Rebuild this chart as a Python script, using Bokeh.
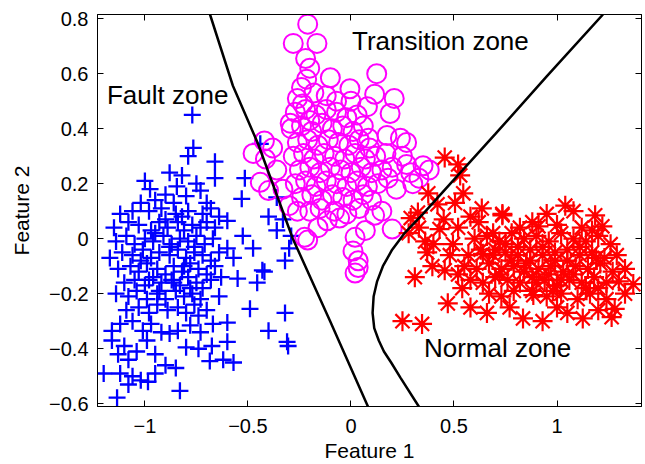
from bokeh.plotting import figure
from bokeh.models import Range1d, FixedTicker, LinearAxis, Label
from bokeh.embed import file_html
from bokeh.resources import INLINE

# ---------------- data ----------------
fault_pts = [
    (-0.77, 0.45), (-0.765, 0.33), (-0.79, 0.30), (-0.66, 0.28), (-0.88, 0.24), (-0.82, 0.23),
    (-1.00, 0.21), (-0.66, 0.22), (-0.845, 0.19), (-0.975, 0.18), (-0.73, 0.175), (-0.515, 0.22),
    (-0.53, 0.145), (-0.90, 0.16), (-0.80, 0.155), (-0.44, 0.345), (-0.36, 0.15), (-0.75, 0.20),
    (-0.95, 0.14), (-0.70, 0.13), (-0.86, 0.13), (-1.02, 0.13),
    (-0.60, 0.065), (-0.525, 0.01), (-0.475, -0.035), (-0.60, -0.035), (-0.33, 0.07), (-0.30, -0.035),
    (-0.29, 0.01), (-0.32, -0.08), (-0.43, -0.115), (-0.55, -0.145), (-0.455, -0.16), (-0.49, -0.255),
    (-0.32, -0.27), (-0.40, -0.335), (-0.31, -0.375), (-0.305, -0.39), (-0.60, -0.375), (-0.57, -0.45),
    (-0.685, -0.445), (-0.62, -0.44), (-0.42, -0.12), (-0.57, -0.07), (-0.40, 0.08), (-0.36, 0.03),
    (-1.12, 0.09), (-1.06, 0.10), (-0.98, 0.10), (-0.92, 0.11), (-0.85, 0.09), (-0.79, 0.10),
    (-0.72, 0.09), (-0.68, 0.11), (-0.64, 0.08),
    (-1.15, 0.04), (-1.08, 0.06), (-1.03, 0.05), (-0.97, 0.03), (-0.93, 0.06), (-0.89, 0.04),
    (-0.84, 0.06), (-0.81, 0.03), (-0.77, 0.05), (-0.73, 0.04), (-0.70, 0.06), (-0.66, 0.04),
    (-1.14, -0.01), (-1.09, 0.01), (-1.05, -0.02), (-1.00, 0.00), (-0.96, -0.01), (-0.91, 0.01),
    (-0.87, -0.02), (-0.83, 0.00), (-0.79, -0.01), (-0.75, 0.01), (-0.71, -0.02), (-0.67, 0.00),
    (-1.17, -0.07), (-1.11, -0.05), (-1.06, -0.06), (-1.01, -0.04), (-0.97, -0.07), (-0.93, -0.05),
    (-0.88, -0.06), (-0.84, -0.04), (-0.80, -0.07), (-0.76, -0.05), (-0.72, -0.06), (-0.68, -0.08),
    (-0.64, -0.05),
    (-1.13, -0.11), (-1.07, -0.10), (-1.03, -0.12), (-0.99, -0.09), (-0.94, -0.11), (-0.90, -0.13),
    (-0.86, -0.10), (-0.82, -0.12), (-0.78, -0.09), (-0.74, -0.11), (-0.70, -0.13), (-0.66, -0.10),
    (-0.63, -0.14),
    (-1.10, -0.16), (-1.05, -0.15), (-1.00, -0.17), (-0.96, -0.14), (-0.92, -0.16), (-0.87, -0.15),
    (-0.83, -0.17), (-0.79, -0.14), (-0.75, -0.16), (-0.72, -0.18), (-0.68, -0.15),
    (-1.14, -0.20), (-1.08, -0.21), (-1.04, -0.19), (-0.99, -0.22), (-0.94, -0.20), (-0.90, -0.22),
    (-0.85, -0.19), (-0.81, -0.21), (-0.77, -0.20), (-0.73, -0.22), (-0.64, -0.21),
    (-1.09, -0.26), (-1.03, -0.25), (-0.98, -0.27), (-0.94, -0.24), (-0.89, -0.26), (-0.84, -0.25),
    (-0.80, -0.27), (-0.76, -0.24), (-0.70, -0.26),
    (-1.16, -0.335), (-1.12, -0.31), (-1.06, -0.30), (-1.01, -0.335), (-0.97, -0.31), (-0.92, -0.34),
    (-0.88, -0.345), (-0.84, -0.335), (-0.78, -0.315), (-0.67, -0.31), (-0.60, -0.305), (-0.73, -0.34),
    (-1.16, -0.37), (-1.10, -0.39), (-1.04, -0.41), (-0.99, -0.37), (-0.95, -0.42), (-0.90, -0.46),
    (-0.80, -0.395), (-0.675, -0.39), (-0.74, -0.40), (-1.08, -0.44), (-1.13, -0.42),
    (-1.20, -0.49), (-1.12, -0.49), (-1.02, -0.515), (-0.985, -0.52), (-1.06, -0.50), (-1.08, -0.53),
    (-0.83, -0.553), (-1.135, -0.578), (-0.95, -0.49), (-0.85, -0.47),
    (-0.95, 0.02), (-0.88, -0.03), (-0.81, -0.10), (-0.86, -0.16), (-0.93, -0.19), (-0.78, -0.18),
    (-0.76, -0.03), (-0.90, 0.07), (-0.82, 0.08), (-1.02, -0.08), (-0.98, -0.15), (-0.74, -0.28),
]

transition_pts = [
    (-0.21, 0.78), (-0.28, 0.71), (-0.165, 0.71), (-0.22, 0.655), (-0.20, 0.62), (-0.215, 0.58),
    (-0.10, 0.585), (0.125, 0.60), (-0.005, 0.545), (0.115, 0.525), (0.21, 0.51), (0.19, 0.455),
    (-0.295, 0.42), (-0.42, 0.355), (-0.235, 0.49),
    (0.085, 0.365), (0.175, 0.375), (0.24, 0.365), (0.27, 0.35), (0.35, 0.265), (0.29, 0.24),
    (0.20, 0.035), (0.115, 0.085), (0.25, 0.30), (0.30, 0.20), (0.22, 0.18), (0.27, 0.27),
    (0.38, 0.25), (0.33, 0.22),
    (-0.475, 0.31), (-0.415, 0.29), (-0.44, 0.205), (-0.40, 0.175), (-0.36, 0.25), (-0.33, 0.18),
    (-0.38, 0.33),
    (-0.115, 0.065), (-0.055, 0.075), (-0.21, -0.005), (-0.225, 0.005), (0.02, 0.005), (0.01, -0.045),
    (0.035, -0.08), (0.035, -0.105), (0.02, -0.125), (-0.16, 0.04), (0.07, 0.03), (-0.26, 0.10),
    (-0.30, 0.12), (0.10, 0.14), (0.15, 0.10),
    (-0.27, 0.46), (-0.22, 0.47), (-0.17, 0.45), (-0.12, 0.47), (-0.07, 0.46), (-0.02, 0.44), (0.03, 0.45),
    (-0.29, 0.40), (-0.24, 0.41), (-0.19, 0.39), (-0.14, 0.42), (-0.09, 0.40), (-0.04, 0.41), (0.01, 0.39),
    (0.06, 0.41),
    (-0.26, 0.35), (-0.21, 0.36), (-0.16, 0.34), (-0.11, 0.36), (-0.06, 0.35), (-0.01, 0.34), (0.04, 0.36),
    (0.09, 0.33),
    (-0.28, 0.30), (-0.23, 0.31), (-0.18, 0.29), (-0.13, 0.31), (-0.08, 0.30), (-0.03, 0.29), (0.02, 0.31),
    (0.07, 0.29), (0.12, 0.30), (0.17, 0.31),
    (-0.25, 0.25), (-0.20, 0.26), (-0.15, 0.24), (-0.10, 0.26), (-0.05, 0.25), (0.00, 0.24), (0.05, 0.26),
    (0.10, 0.24), (0.15, 0.25), (0.20, 0.26),
    (-0.27, 0.20), (-0.22, 0.21), (-0.17, 0.19), (-0.12, 0.21), (-0.07, 0.20), (-0.02, 0.19), (0.03, 0.21),
    (0.08, 0.19), (0.13, 0.20), (0.18, 0.22),
    (-0.24, 0.15), (-0.19, 0.16), (-0.14, 0.14), (-0.09, 0.16), (-0.04, 0.15), (0.01, 0.14), (0.06, 0.16),
    (-0.20, 0.10), (-0.15, 0.11), (-0.08, 0.10), (-0.02, 0.09), (0.04, 0.11),
    (-0.24, 0.55), (-0.18, 0.53), (-0.12, 0.52), (-0.07, 0.50), (-0.26, 0.51), (-0.20, 0.43), (0.00, 0.50),
    (0.08, 0.48),
]

normal_pts = [
    (0.455, 0.295), (0.52, 0.27), (0.53, 0.23), (0.375, 0.165), (0.545, 0.165), (0.42, 0.125),
    (0.505, 0.13), (0.29, 0.075), (0.325, 0.095), (0.28, 0.02), (0.635, 0.11), (0.735, 0.09),
    (0.43, 0.035), (0.37, -0.05), (0.40, -0.02), (0.495, -0.02), (0.64, -0.055), (0.395, -0.10),
    (0.31, -0.14), (0.455, -0.115), (0.54, -0.18), (0.47, -0.235), (0.25, -0.30), (0.345, -0.31),
    (1.04, 0.12), (1.08, 0.10), (0.95, 0.09), (1.185, 0.085), (1.22, 0.045), (0.735, 0.085),
    (0.91, 0.045), (1.17, 0.03), (0.62, 0.06), (0.69, 0.02),
    (1.37, -0.165), (1.30, -0.155), (0.835, -0.29), (0.93, -0.30), (1.125, -0.29), (1.265, -0.285),
    (1.28, -0.255), (0.885, -0.205), (0.77, -0.25), (1.00, -0.25), (1.20, -0.26), (1.24, -0.22),
    (1.33, -0.20), (0.58, -0.25), (0.66, -0.27), (1.05, -0.27),
    (0.60, 0.00), (0.66, 0.01), (0.72, -0.01), (0.78, 0.02), (0.84, 0.00), (0.90, 0.01), (0.96, -0.01),
    (1.02, 0.02), (1.08, 0.00), (1.14, -0.01), (1.20, 0.01), (1.26, -0.02),
    (0.57, -0.06), (0.63, -0.04), (0.69, -0.06), (0.75, -0.05), (0.81, -0.06), (0.87, -0.04), (0.93, -0.06),
    (0.99, -0.05), (1.05, -0.04), (1.11, -0.06), (1.17, -0.05), (1.23, -0.07), (1.29, -0.06),
    (0.55, -0.10), (0.61, -0.11), (0.67, -0.09), (0.73, -0.11), (0.79, -0.10), (0.85, -0.09), (0.91, -0.11),
    (0.97, -0.10), (1.03, -0.12), (1.09, -0.10), (1.15, -0.11), (1.21, -0.09), (1.27, -0.12), (1.33, -0.11),
    (0.58, -0.15), (0.64, -0.16), (0.70, -0.14), (0.76, -0.15), (0.82, -0.16), (0.88, -0.14), (0.94, -0.15),
    (1.00, -0.17), (1.06, -0.15), (1.12, -0.16), (1.18, -0.14), (1.24, -0.16),
    (0.67, -0.20), (0.73, -0.21), (0.79, -0.19), (0.95, -0.21), (1.02, -0.20), (1.10, -0.22), (1.16, -0.20),
    (0.48, -0.06), (0.52, -0.13), (0.45, 0.07), (0.58, 0.08), (0.52, 0.04), (0.33, 0.04), (0.36, -0.01),
    (0.75, -0.02), (0.81, -0.03), (0.87, -0.08), (0.93, -0.03), (0.99, -0.08), (1.05, -0.08), (1.11, -0.03),
    (0.78, -0.08), (0.84, -0.12), (0.90, -0.16), (0.96, -0.13), (1.02, -0.15), (1.08, -0.13), (1.14, -0.18),
    (0.72, -0.13), (0.70, -0.04), (0.88, -0.19), (0.98, -0.19), (1.20, -0.18), (1.19, -0.07), (0.82, 0.04),
    (0.88, 0.06), (1.00, 0.05), (1.12, 0.04),
]

fault_x = [p[0] for p in fault_pts]
fault_y = [p[1] for p in fault_pts]
transition_x = [p[0] for p in transition_pts]
transition_y = [p[1] for p in transition_pts]
normal_x = [p[0] for p in normal_pts]
normal_y = [p[1] for p in normal_pts]

# decision boundaries
boundary1_x = [-0.684, -0.573, -0.451, -0.282, -0.102, 0.083]
boundary1_y = [0.815, 0.556, 0.345, 0.0, -0.298, -0.611]
boundary2_x = [1.223, 0.95, 0.70, 0.50, 0.35, 0.26, 0.20, 0.155, 0.127, 0.11, 0.105, 0.113, 0.135, 0.16, 0.195, 0.24, 0.33]
boundary2_y = [0.815, 0.59, 0.38, 0.215, 0.09, 0.02, -0.04, -0.10, -0.155, -0.21, -0.27, -0.325, -0.37, -0.41, -0.45, -0.505, -0.611]

x_ticks = [-1, -0.5, 0, 0.5, 1]
x_tick_labels = ["\u22121", "\u22120.5", "0", "0.5", "1"]
y_ticks = [-0.6, -0.4, -0.2, 0, 0.2, 0.4, 0.6, 0.8]
y_tick_labels = ["\u22120.6", "\u22120.4", "\u22120.2", "0", "0.2", "0.4", "0.6", "0.8"]

zone_labels = ["Fault zone", "Transition zone", "Normal zone"]
zone_label_x = [-1.184, 0.005, 0.354]
zone_label_y = [0.524, 0.72, -0.396]

FONT = "Liberation Sans"

p = figure(width=645, height=464, x_range=Range1d(-1.23, 1.41), y_range=Range1d(-0.61, 0.815),
           output_backend="svg", toolbar_location=None,
           min_border_left=97, min_border_right=4, min_border_top=14, min_border_bottom=58)
p.grid.visible = False
p.outline_line_color = "black"
p.outline_line_width = 1
p.outline_line_alpha = 1

p.scatter(fault_x, fault_y, marker="cross", size=17, line_width=2.3, color="#0000ff")
p.scatter(transition_x, transition_y, marker="circle", size=19, line_width=2,
          line_color="#ff00ff", fill_color=None)
p.scatter(normal_x, normal_y, marker="asterisk", size=20, line_width=2.2, color="#ff0000")
p.line(boundary1_x, boundary1_y, line_color="black", line_width=2.5)
p.line(boundary2_x, boundary2_y, line_color="black", line_width=2.5)

for t, lx, ly in zip(zone_labels, zone_label_x, zone_label_y):
    p.add_layout(Label(x=lx, y=ly, text=t, text_font=FONT, text_font_size="26px",
                       text_baseline="alphabetic", text_align="left", text_color="black"))

def style_axis(ax, ticks, labels=None):
    ax.ticker = FixedTicker(ticks=ticks)
    ax.major_tick_in = 6
    ax.major_tick_out = 0
    ax.minor_tick_line_color = None
    ax.axis_line_color = "black"
    ax.major_tick_line_color = "black"
    ax.major_label_text_font = FONT
    ax.major_label_text_color = "black"
    ax.axis_label_text_font = FONT
    ax.axis_label_text_font_style = "normal"
    ax.axis_label_text_color = "black"
    if labels is not None:
        ax.major_label_overrides = {t: l for t, l in zip(ticks, labels)}

xa = p.xaxis[0]
style_axis(xa, x_ticks, x_tick_labels)
xa.major_label_text_font_size = "20px"
xa.major_label_standoff = 12
xa.axis_label = "Feature 1"
xa.axis_label_text_font_size = "21px"
xa.axis_label_standoff = 3

ya = p.yaxis[0]
style_axis(ya, y_ticks, y_tick_labels)
ya.major_label_text_font_size = "20px"
ya.major_label_standoff = 9
ya.axis_label = "Feature 2"
ya.axis_label_text_font_size = "21px"
ya.axis_label_standoff = 13

# box ticks on top and right (labels not drawn)
top = LinearAxis()
style_axis(top, x_ticks)
top.major_label_text_font_size = "1px"
top.major_label_text_color = None
top.major_label_standoff = 0
p.add_layout(top, "above")

right = LinearAxis()
style_axis(right, y_ticks)
right.major_label_text_font_size = "1px"
right.major_label_text_color = None
right.major_label_standoff = 0
p.add_layout(right, "right")

open("out.html", "w").write(file_html(p, INLINE))
